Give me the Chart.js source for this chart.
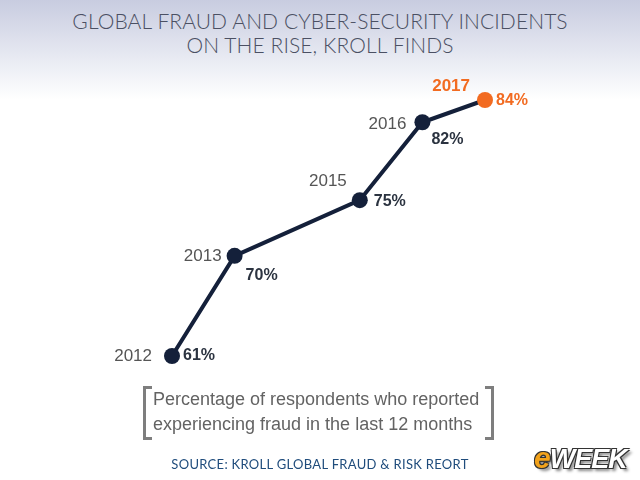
<!DOCTYPE html>
<html><head><meta charset="utf-8">
<script src="https://cdn.jsdelivr.net/npm/chart.js@4/dist/chart.umd.min.js"></script>
<style>
html,body{margin:0;padding:0;width:640px;height:480px;overflow:hidden;background:#fff;}
#bg{position:absolute;left:0;top:0;width:640px;height:100px;background:linear-gradient(#c8cce0,#e9ebf3 60%,#ffffff);}
#title{position:absolute;left:0;top:9px;width:640px;text-align:center;font-family:"Lato",sans-serif;font-weight:300;font-size:21px;line-height:24px;color:#4b5063;letter-spacing:0.1px;}
#wrap{position:absolute;left:0;top:0;width:640px;height:480px;}
#note{position:absolute;left:143px;top:386px;width:351px;height:52px;font-family:"Liberation Sans",Arial,sans-serif;font-size:18px;line-height:25px;color:#636363;}
#note .txt{position:absolute;left:10px;top:1px;white-space:nowrap;}
.br{position:absolute;top:0;width:6px;height:48px;border:3px solid #7e7e7e;}
.bl{left:0;border-right:none;}
.brr{right:0;border-left:none;}
#source{position:absolute;left:0;top:456px;width:640px;text-align:center;font-family:"Lato",sans-serif;font-size:13px;color:#1f4c7c;letter-spacing:0.3px;}
#logo{position:absolute;left:534px;top:441px;font-family:"Liberation Sans",Arial,sans-serif;font-weight:bold;font-style:italic;font-size:27px;letter-spacing:-1px;color:#fff;text-shadow:1px 1px 0 #333,-1px -1px 0 #333,1px -1px 0 #333,-1px 1px 0 #333,3px 3px 3px #888;}
#logo .e{color:#f2a21b;font-size:30px;}
</style></head><body>
<div id="bg"></div>
<div id="title">GLOBAL FRAUD AND CYBER-SECURITY INCIDENTS<br>ON THE RISE, KROLL FINDS</div>
<div id="wrap"><canvas id="c" width="640" height="480"></canvas></div>
<div id="note"><div class="br bl"></div><div class="txt">Percentage of respondents who reported<br>experiencing fraud in the last 12 months</div><div class="br brr"></div></div>
<div id="source">SOURCE: KROLL GLOBAL FRAUD &amp; RISK REORT</div>
<div id="logo"><span class="e">e</span>WEEK</div>
<script>
const years = [2012, 2013, 2015, 2016, 2017];
const percents = [61, 70, 75, 82, 84];
const yearLabels = ["2012", "2013", "2015", "2016", "2017"];
const pctLabels = ["61%", "70%", "75%", "82%", "84%"];

const NAVY = '#14203a', ORANGE = '#f26b21';
// label offsets (style only): [dx,dy,align] for year label and pct label
const yearOff = [[-20,0,'right'],[-13,0,'right'],[-13,-19,'right'],[-16,2,'right'],[-15,-14,'right']];
const pctOff  = [[11,0,'left'],[11,20,'left'],[14,1,'left'],[9,17,'left'],[11,1,'left']];

const labelPlugin = {
  id:'labels',
  afterDatasetsDraw(chart){
    const ctx = chart.ctx;
    const meta = chart.getDatasetMeta(0);
    ctx.save();
    ctx.textBaseline = 'middle';
    meta.data.forEach((pt,i)=>{
      const last = i === years.length-1;
      ctx.font = (last ? 'bold 17px ' : '17px ') + '"Liberation Sans", Arial, sans-serif';
      ctx.fillStyle = last ? ORANGE : '#555555';
      ctx.textAlign = yearOff[i][2];
      ctx.fillText(yearLabels[i], pt.x + yearOff[i][0], pt.y + yearOff[i][1]);
      ctx.font = 'bold 16px "Liberation Sans", Arial, sans-serif';
      ctx.fillStyle = last ? ORANGE : '#2b3340';
      ctx.textAlign = pctOff[i][2];
      ctx.fillText(pctLabels[i], pt.x + pctOff[i][0], pt.y + pctOff[i][1]);
    });
    ctx.restore();
  }
};

new Chart(document.getElementById('c'), {
  type:'line',
  data:{
    datasets:[{
      data: years.map((y,i)=>({x:y, y:percents[i]})),
      borderColor: NAVY,
      borderWidth: 4,
      pointRadius: 8,
      pointBackgroundColor: years.map((y,i)=> i===years.length-1 ? ORANGE : NAVY),
      pointBorderWidth: 0,
      tension: 0,
      clip: false
    }]
  },
  options:{
    responsive:false,
    animation:false,
    events:[],
    layout:{padding:{left:172,right:155,top:100,bottom:124}},
    plugins:{legend:{display:false},tooltip:{enabled:false}},
    scales:{
      x:{type:'linear',min:2012,max:2017,display:false},
      y:{type:'linear',min:61,max:84,display:false}
    }
  },
  plugins:[labelPlugin]
});
</script>
</body></html>
